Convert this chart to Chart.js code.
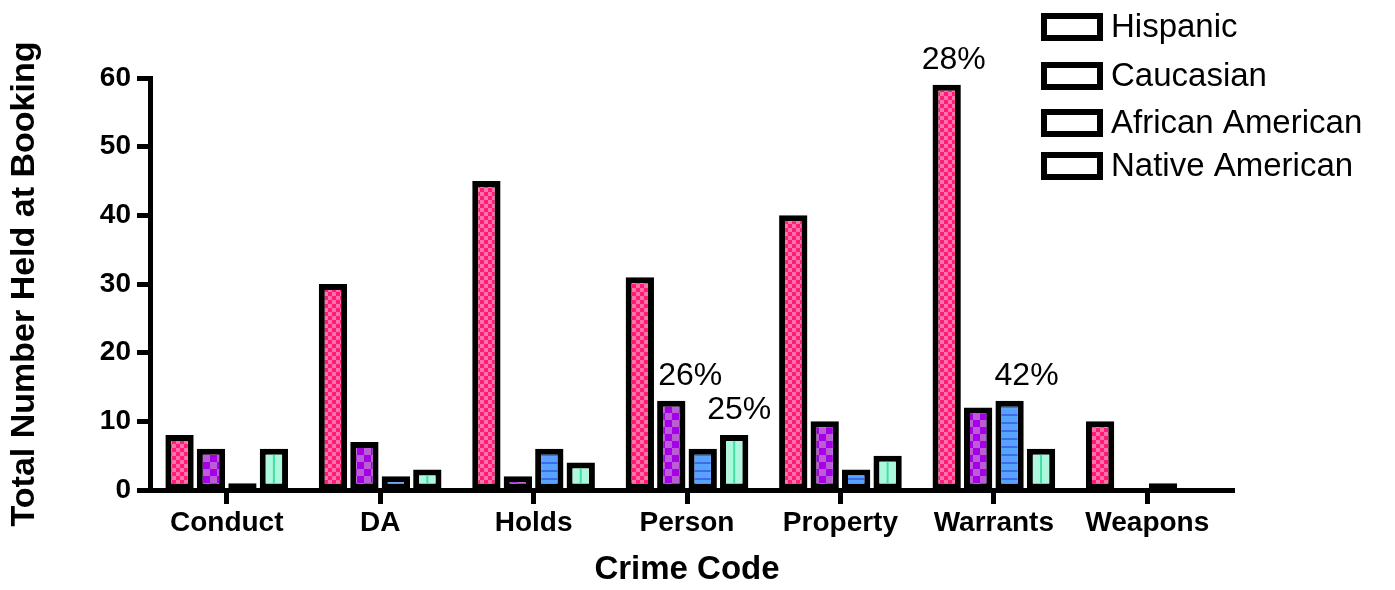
<!DOCTYPE html>
<html lang="en">
<head>
<meta charset="UTF-8">
<title>Total Number Held at Booking by Crime Code</title>
<script src="https://cdn.jsdelivr.net/npm/chart.js"></script>
<style>
  html, body { margin: 0; padding: 0; background: #fff; }
  #wrap { width: 1395px; height: 590px; }
</style>
</head>
<body>
<div id="wrap"><canvas id="chart" width="1395" height="590"></canvas></div>
<script>
// data
const crimeCodes = ['Conduct', 'DA', 'Holds', 'Person', 'Property', 'Warrants', 'Weapons'];
const hispanic = [8, 30, 45, 31, 40, 59, 10];
const caucasian = [6, 7, 2, 13, 10, 12, 0];
const africanAmerican = [1, 2, 6, 6, 3, 13, 1];
const nativeAmerican = [6, 3, 4, 8, 5, 6, 0];
const yTicks = [0, 10, 20, 30, 40, 50, 60];
// [series, category, text]
const notes = [[0, 5, '28%'], [1, 3, '26%'], [3, 3, '25%'], [2, 5, '42%']];

const FONT = '"Liberation Sans", Arial, sans-serif';
const canvas = document.getElementById('chart');
const mainCtx = canvas.getContext('2d');

function makePattern(w, h, paint) {
    const c = document.createElement('canvas');
    c.width = w; c.height = h;
    paint(c.getContext('2d'));
    return mainCtx.createPattern(c, 'repeat');
}

const pinkChecks = makePattern(8, 8, g => {
    g.fillStyle = '#ff1a7d'; g.fillRect(0, 0, 8, 8);
    g.fillStyle = '#ff72a2'; g.fillRect(0, 0, 4, 4); g.fillRect(4, 4, 4, 4);
});
const purpleChecks = makePattern(14, 14, g => {
    g.fillStyle = '#a600e8'; g.fillRect(0, 0, 14, 14);
    g.fillStyle = '#bb5ed6'; g.fillRect(0, 0, 7, 7); g.fillRect(7, 7, 7, 7);
});
const blueStripes = makePattern(8, 8, g => {
    g.fillStyle = '#57a3ff'; g.fillRect(0, 0, 8, 8);
    g.fillStyle = '#3d6bea'; g.fillRect(0, 6, 8, 2);
});

const noteShift = [7, 19, 5, 17];

// legend, percent notes and the stripe down the native american bars
const extras = {
    id: 'extras',
    afterDatasetsDraw(chart) {
        const ctx = chart.ctx;
        const area = chart.chartArea;
        ctx.save();

        // x axis runs a little past the last group in the original
        ctx.strokeStyle = '#000';
        ctx.lineWidth = 5;
        ctx.beginPath();
        ctx.moveTo(area.right - 12, Math.round(area.bottom) + 0.5);
        ctx.lineTo(area.right + 11, Math.round(area.bottom) + 0.5);
        ctx.stroke();

        ctx.fillStyle = '#3fe0a0';
        chart.getDatasetMeta(3).data.forEach(bar => {
            const h = bar.base - bar.y - 12;
            if (h > 0) ctx.fillRect(bar.x - 1, bar.y + 6, 2, h);
        });

        ctx.fillStyle = '#000';
        ctx.font = '32px ' + FONT;
        ctx.textAlign = 'center';
        ctx.textBaseline = 'middle';
        notes.forEach(([s, c, text], i) => {
            const bar = chart.getDatasetMeta(s).data[c];
            ctx.fillText(text, bar.x + noteShift[i], bar.y - 25);
        });

        const rows = [27, 76, 123, 166];
        ctx.font = '33px ' + FONT;
        ctx.textAlign = 'left';
        ctx.lineWidth = 6;
        ctx.strokeStyle = '#000';
        chart.data.datasets.forEach((ds, i) => {
            const y = rows[i];
            ctx.fillStyle = '#fff';
            ctx.fillRect(1044, y - 11, 56, 22);
            ctx.strokeRect(1044, y - 11, 56, 22);
            ctx.fillStyle = '#000';
            ctx.fillText(ds.label, 1111, y + 1);
        });
        ctx.restore();
    }
};

const tickFont = { family: FONT, size: 28, weight: 'bold' };

new Chart(mainCtx, {
    type: 'bar',
    data: {
        labels: crimeCodes,
        datasets: [
            { label: 'Hispanic', data: hispanic, backgroundColor: pinkChecks },
            { label: 'Caucasian', data: caucasian, backgroundColor: purpleChecks },
            { label: 'African American', data: africanAmerican, backgroundColor: blueStripes },
            { label: 'Native American', data: nativeAmerican, backgroundColor: '#adf7dd' }
        ].map(d => Object.assign(d, { borderColor: '#000', borderWidth: 6, borderSkipped: false }))
    },
    options: {
        responsive: false,
        animation: false,
        events: [],
        layout: { padding: { left: 0, right: 171, top: 78, bottom: 0 } },
        datasets: { bar: { categoryPercentage: 0.82, barPercentage: 0.9 } },
        plugins: { legend: { display: false }, tooltip: { enabled: false } },
        scales: {
            x: {
                offset: true,
                grid: { offset: false, drawOnChartArea: false, drawTicks: true, tickLength: 14, tickWidth: 5, tickColor: '#000' },
                border: { display: true, color: '#000', width: 5 },
                ticks: { color: '#000', font: tickFont, padding: 2, maxRotation: 0, autoSkip: false },
                title: { display: true, text: 'Crime Code', color: '#000',
                         font: { family: FONT, size: 33, weight: 'bold' }, padding: { top: 0, bottom: 0 } },
                afterFit(s) { s.height = 100; }
            },
            y: {
                min: 0, max: 60,
                afterBuildTicks(s) { s.ticks = yTicks.map(v => ({ value: v })); },
                grid: { drawOnChartArea: false, drawTicks: true, tickLength: 13, tickWidth: 5, tickColor: '#000' },
                border: { display: true, color: '#000', width: 5 },
                ticks: { color: '#000', font: tickFont, padding: 6 },
                title: { display: true, text: 'Total Number Held at Booking', color: '#000',
                         font: { family: FONT, size: 34, weight: 'bold' }, padding: { top: 4, bottom: 0 } },
                afterFit(s) { s.width = 150; }
            }
        }
    },
    plugins: [extras]
});
</script>
</body>
</html>
